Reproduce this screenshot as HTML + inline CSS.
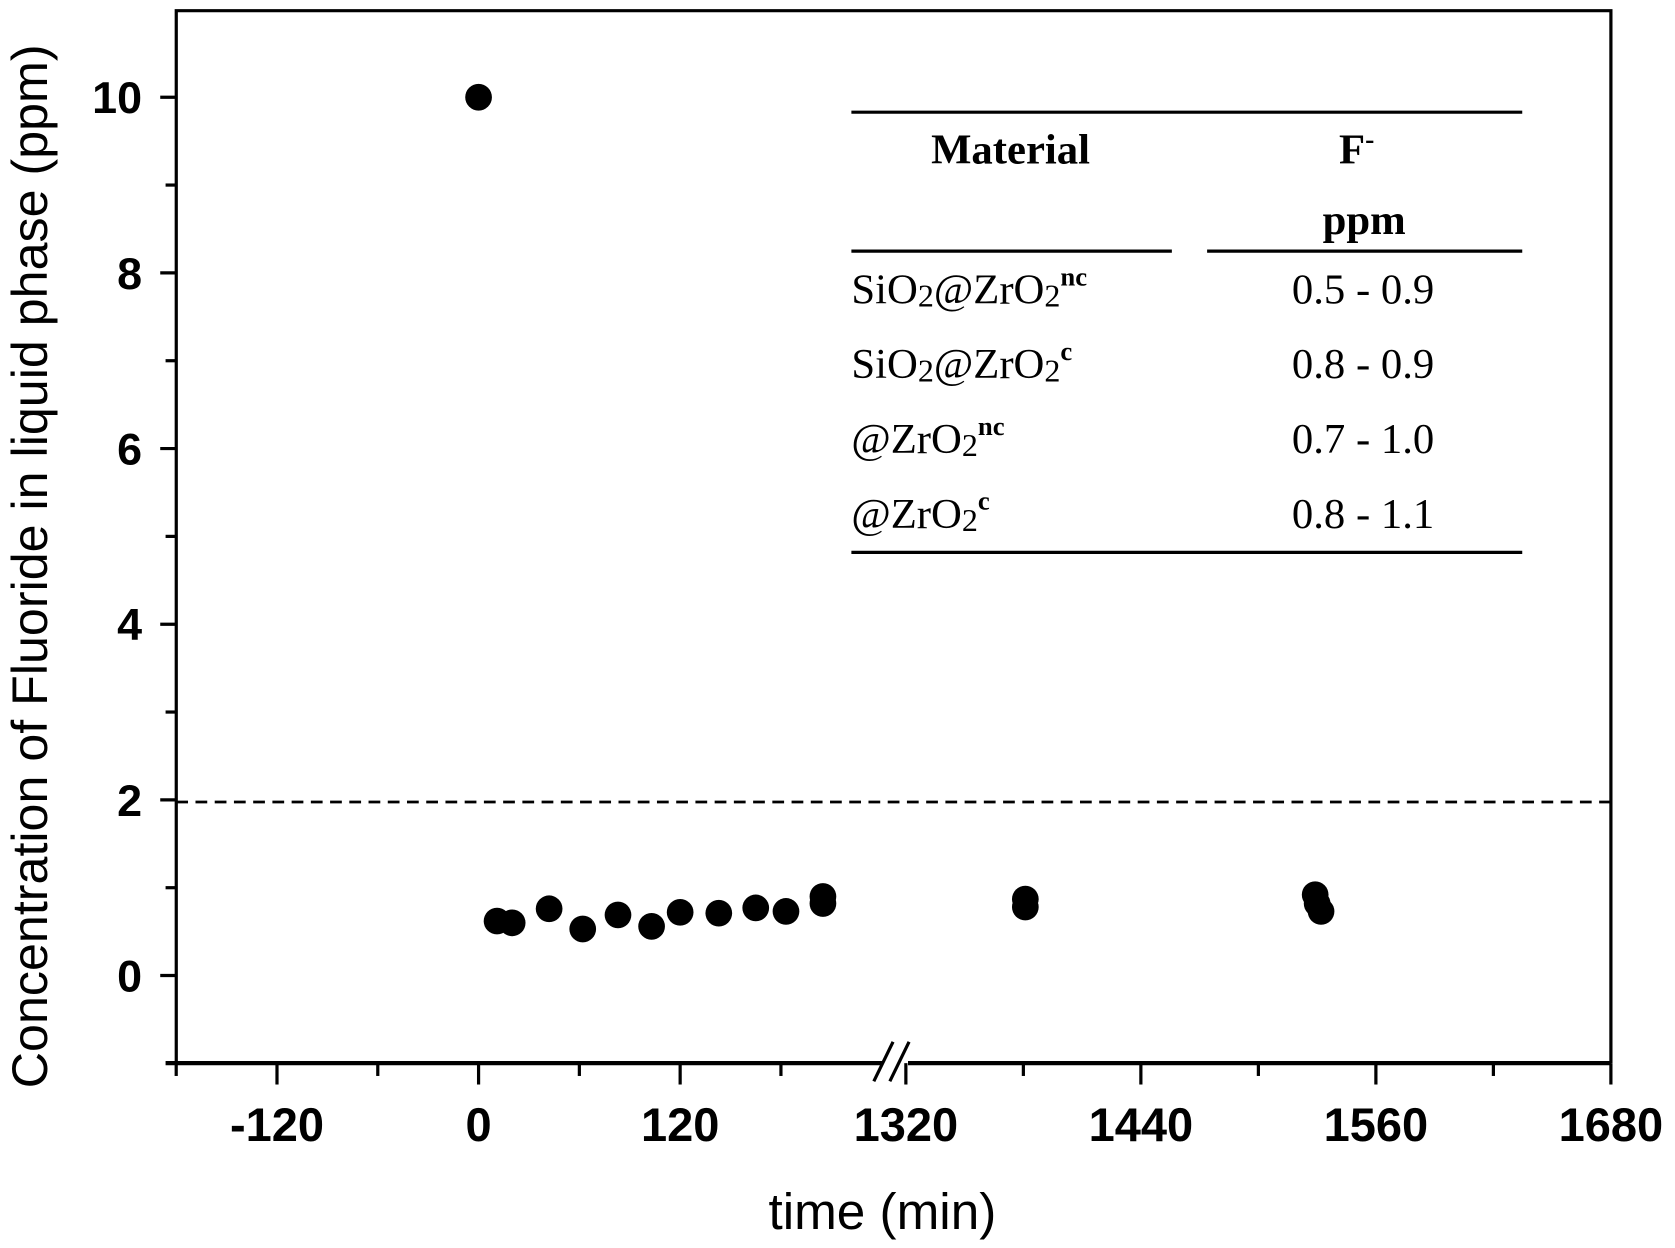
<!DOCTYPE html>
<html><head><meta charset="utf-8"><style>
html,body{margin:0;padding:0;background:#fff;}
svg{display:block;}
.sans{font-family:"Liberation Sans",sans-serif;}
.ser text, text.ser{font-family:"Liberation Serif",serif;}
</style></head><body>
<svg id="chart" width="1675" height="1248" viewBox="0 0 1568 1168" preserveAspectRatio="none" xmlns="http://www.w3.org/2000/svg">
<rect width="1568" height="1168" fill="#fff"/>
<g id="axes" class="sans"></g>
<g id="marks"></g>
<g class="ser" fill="#000">
  <line x1="797" y1="105" x2="1425" y2="105" stroke="#000" stroke-width="3"/>
  <text x="946" y="153" font-size="40" font-weight="bold" text-anchor="middle">Material</text>
  <text x="1270" y="153" font-size="40" font-weight="bold" text-anchor="middle">F<tspan dy="-14" font-size="26">-</tspan></text>
  <text x="1277" y="219" font-size="40" font-weight="bold" text-anchor="middle">ppm</text>
  <line x1="797" y1="235" x2="1097" y2="235" stroke="#000" stroke-width="3"/>
  <line x1="1130" y1="235" x2="1425" y2="235" stroke="#000" stroke-width="3"/>
  <g font-size="40">
    <text x="797" y="284">SiO<tspan font-size="30" dy="3">2</tspan><tspan dy="-3">@ZrO</tspan><tspan font-size="30" dy="3">2</tspan><tspan font-size="25" dy="-20" font-weight="bold">nc</tspan></text>
    <text x="797" y="354">SiO<tspan font-size="30" dy="3">2</tspan><tspan dy="-3">@ZrO</tspan><tspan font-size="30" dy="3">2</tspan><tspan font-size="25" dy="-20" font-weight="bold">c</tspan></text>
    <text x="797" y="424">@ZrO<tspan font-size="30" dy="3">2</tspan><tspan font-size="25" dy="-20" font-weight="bold">nc</tspan></text>
    <text x="797" y="494">@ZrO<tspan font-size="30" dy="3">2</tspan><tspan font-size="25" dy="-20" font-weight="bold">c</tspan></text>
    <text x="1276" y="284" text-anchor="middle">0.5 - 0.9</text>
    <text x="1276" y="354" text-anchor="middle">0.8 - 0.9</text>
    <text x="1276" y="424" text-anchor="middle">0.7 - 1.0</text>
    <text x="1276" y="494" text-anchor="middle">0.8 - 1.1</text>
  </g>
  <line x1="797" y1="517" x2="1425" y2="517" stroke="#000" stroke-width="3"/>
</g>
</svg>
<script>
const yTicks=[0,2,4,6,8,10];
const xTicksLeft=[-120,0,120];
const xTicksRight=[1320,1440,1560,1680];
const xMinorLeft=[-180,-60,60,180];
const xMinorRight=[1380,1500,1620];
const times=[0,11,20,42,62,83,103,120,143,165,183,205,205,1381,1381,1529,1530,1532];
const conc=[10,0.62,0.6,0.76,0.53,0.69,0.56,0.72,0.71,0.77,0.73,0.9,0.82,0.87,0.78,0.92,0.82,0.73];
const limit=2;
const NS="http://www.w3.org/2000/svg";
function y(v){return 913-v*82.2;}
function x(t){return t<=600?448+t*1.5725:848+(t-1320)*1.8333;}
const ax=document.getElementById('axes'),mk=document.getElementById('marks');
function mkEl(tag,attrs,parent){const e=document.createElementNS(NS,tag);for(const k in attrs)e.setAttribute(k,attrs[k]);parent.appendChild(e);return e;}
let f=mkEl('path',{d:'M165 995 V10 H1508 V995',fill:'none',stroke:'#000','stroke-width':3},ax);


let bl=mkEl('path',{d:'M155 995 H826 M850 995 H1508',fill:'none',stroke:'#000','stroke-width':4},ax);


let br=mkEl('path',{d:'M818 1012 L836 975 M833 1012 L851 975',stroke:'#000','stroke-width':3,fill:'none'},ax);


yTicks.forEach(v=>{
  let l=mkEl('line',{x1:150,x2:165,y1:y(v),y2:y(v),stroke:'#000','stroke-width':3},ax);
  
  
  let t=mkEl('text',{x:133,y:y(v)+15,'font-size':42,'font-weight':'bold','text-anchor':'end'},ax);
  t.textContent=v;
  
  
});
[1,3,5,7,9].forEach(v=>{
  let l=mkEl('line',{x1:155,x2:165,y1:y(v),y2:y(v),stroke:'#000','stroke-width':3},ax);
  
  
});
xTicksLeft.concat(xTicksRight).forEach(v=>{
  let l=mkEl('line',{x1:x(v),x2:x(v),y1:995,y2:1015,stroke:'#000','stroke-width':3},ax);
  
  
  let t=mkEl('text',{x:x(v),y:1068,'font-size':44,'font-weight':'bold','text-anchor':'middle'},ax);
  t.textContent=v;
  
  
});
xMinorLeft.concat(xMinorRight).forEach(v=>{
  let l=mkEl('line',{x1:x(v),x2:x(v),y1:995,y2:1007,stroke:'#000','stroke-width':3},ax);
  
  
});
let xt=mkEl('text',{x:826,y:1150,'font-size':48,'text-anchor':'middle'},ax);
xt.textContent='time (min)';


let yt=mkEl('text',{x:0,y:0,'font-size':47,'text-anchor':'middle',transform:'translate(44,530) rotate(-90)'},ax);
yt.textContent='Concentration of Fluoride in liquid phase (ppm)';


let dl=mkEl('line',{x1:165,x2:1508,y1:y(limit)+2,y2:y(limit)+2,stroke:'#000','stroke-width':2.5,'stroke-dasharray':'11 7'},mk);


times.forEach((t,i)=>{
  let c=mkEl('circle',{cx:x(t),cy:y(conc[i]),r:12.5,fill:'#000'},mk);
  
  
});
</script>
</body></html>
